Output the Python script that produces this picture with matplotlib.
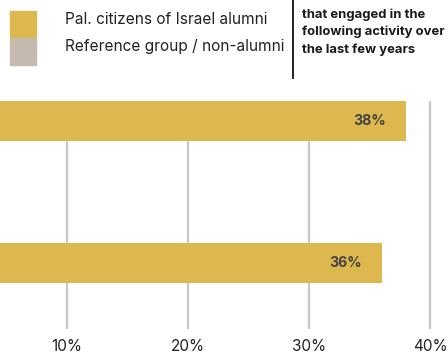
import matplotlib.pyplot as plt
from matplotlib.patches import Rectangle
from matplotlib.lines import Line2D

# data
values = [38, 36]
bar_labels = ["38%", "36%"]
ticks = [10, 20, 30, 40]
tick_labels = ["10%", "20%", "30%", "40%"]
legend_labels = ["Pal. citizens of Israel alumni", "Reference group / non-alumni"]
note_lines = ["that engaged in the", "following activity over", "the last few years"]

GOLD = "#dcb84e"
GREY = "#c4bab0"
W, H = 448, 353

plt.rcParams['font.family'] = ['Inter', 'DejaVu Sans']

fig = plt.figure(figsize=(W / 100, H / 100), dpi=100)

def fx(px):
    return px / W

def fy(py):
    return 1 - py / H

# bar axes spans pixels y 101..329, full width
ax = fig.add_axes([0, fy(329), 1, (329 - 101) / H])
ax.barh(range(len(values)), values, height=0.28, color=GOLD, zorder=3)
for i, v in enumerate(values):
    ax.text(v - 1.6, i, bar_labels[i], ha='right', va='center',
            fontsize=10.2, fontweight='bold', color='#444444', zorder=4)

ax.set_xlim(4.46, 41.49)
ax.set_ylim(1.465, -0.141)
ax.set_xticks(ticks)
ax.set_xticklabels(tick_labels, fontsize=11, color='#222222')
ax.tick_params(axis='x', length=0, pad=7)
ax.set_yticks([])
ax.grid(axis='x', color='#c8c8c8', linewidth=1.6, zorder=0)
for s in ax.spines.values():
    s.set_visible(False)
ax.patch.set_alpha(0)

# legend
fig.add_artist(Rectangle((fx(10), fy(37)), fx(26), 26 / H, color=GOLD,
                         transform=fig.transFigure))
fig.add_artist(Rectangle((fx(10), fy(65)), fx(26), 27 / H, color=GREY,
                         transform=fig.transFigure))
fig.text(fx(65), fy(20), legend_labels[0], ha='left', va='center',
         fontsize=11.1, color='#222222')
fig.text(fx(65), fy(47), legend_labels[1], ha='left', va='center',
         fontsize=11.1, color='#222222')

# separator and note
fig.add_artist(Line2D([fx(293), fx(293)], [fy(0), fy(78)], color='#222222',
                      linewidth=1.4, transform=fig.transFigure))
for k, line in enumerate(note_lines):
    fig.text(fx(302), fy(18 + 17.5 * k), line, ha='left', va='baseline',
             fontsize=9.4, fontweight='bold', color='#1a1a1a')

fig.savefig("out.png", dpi=100)
